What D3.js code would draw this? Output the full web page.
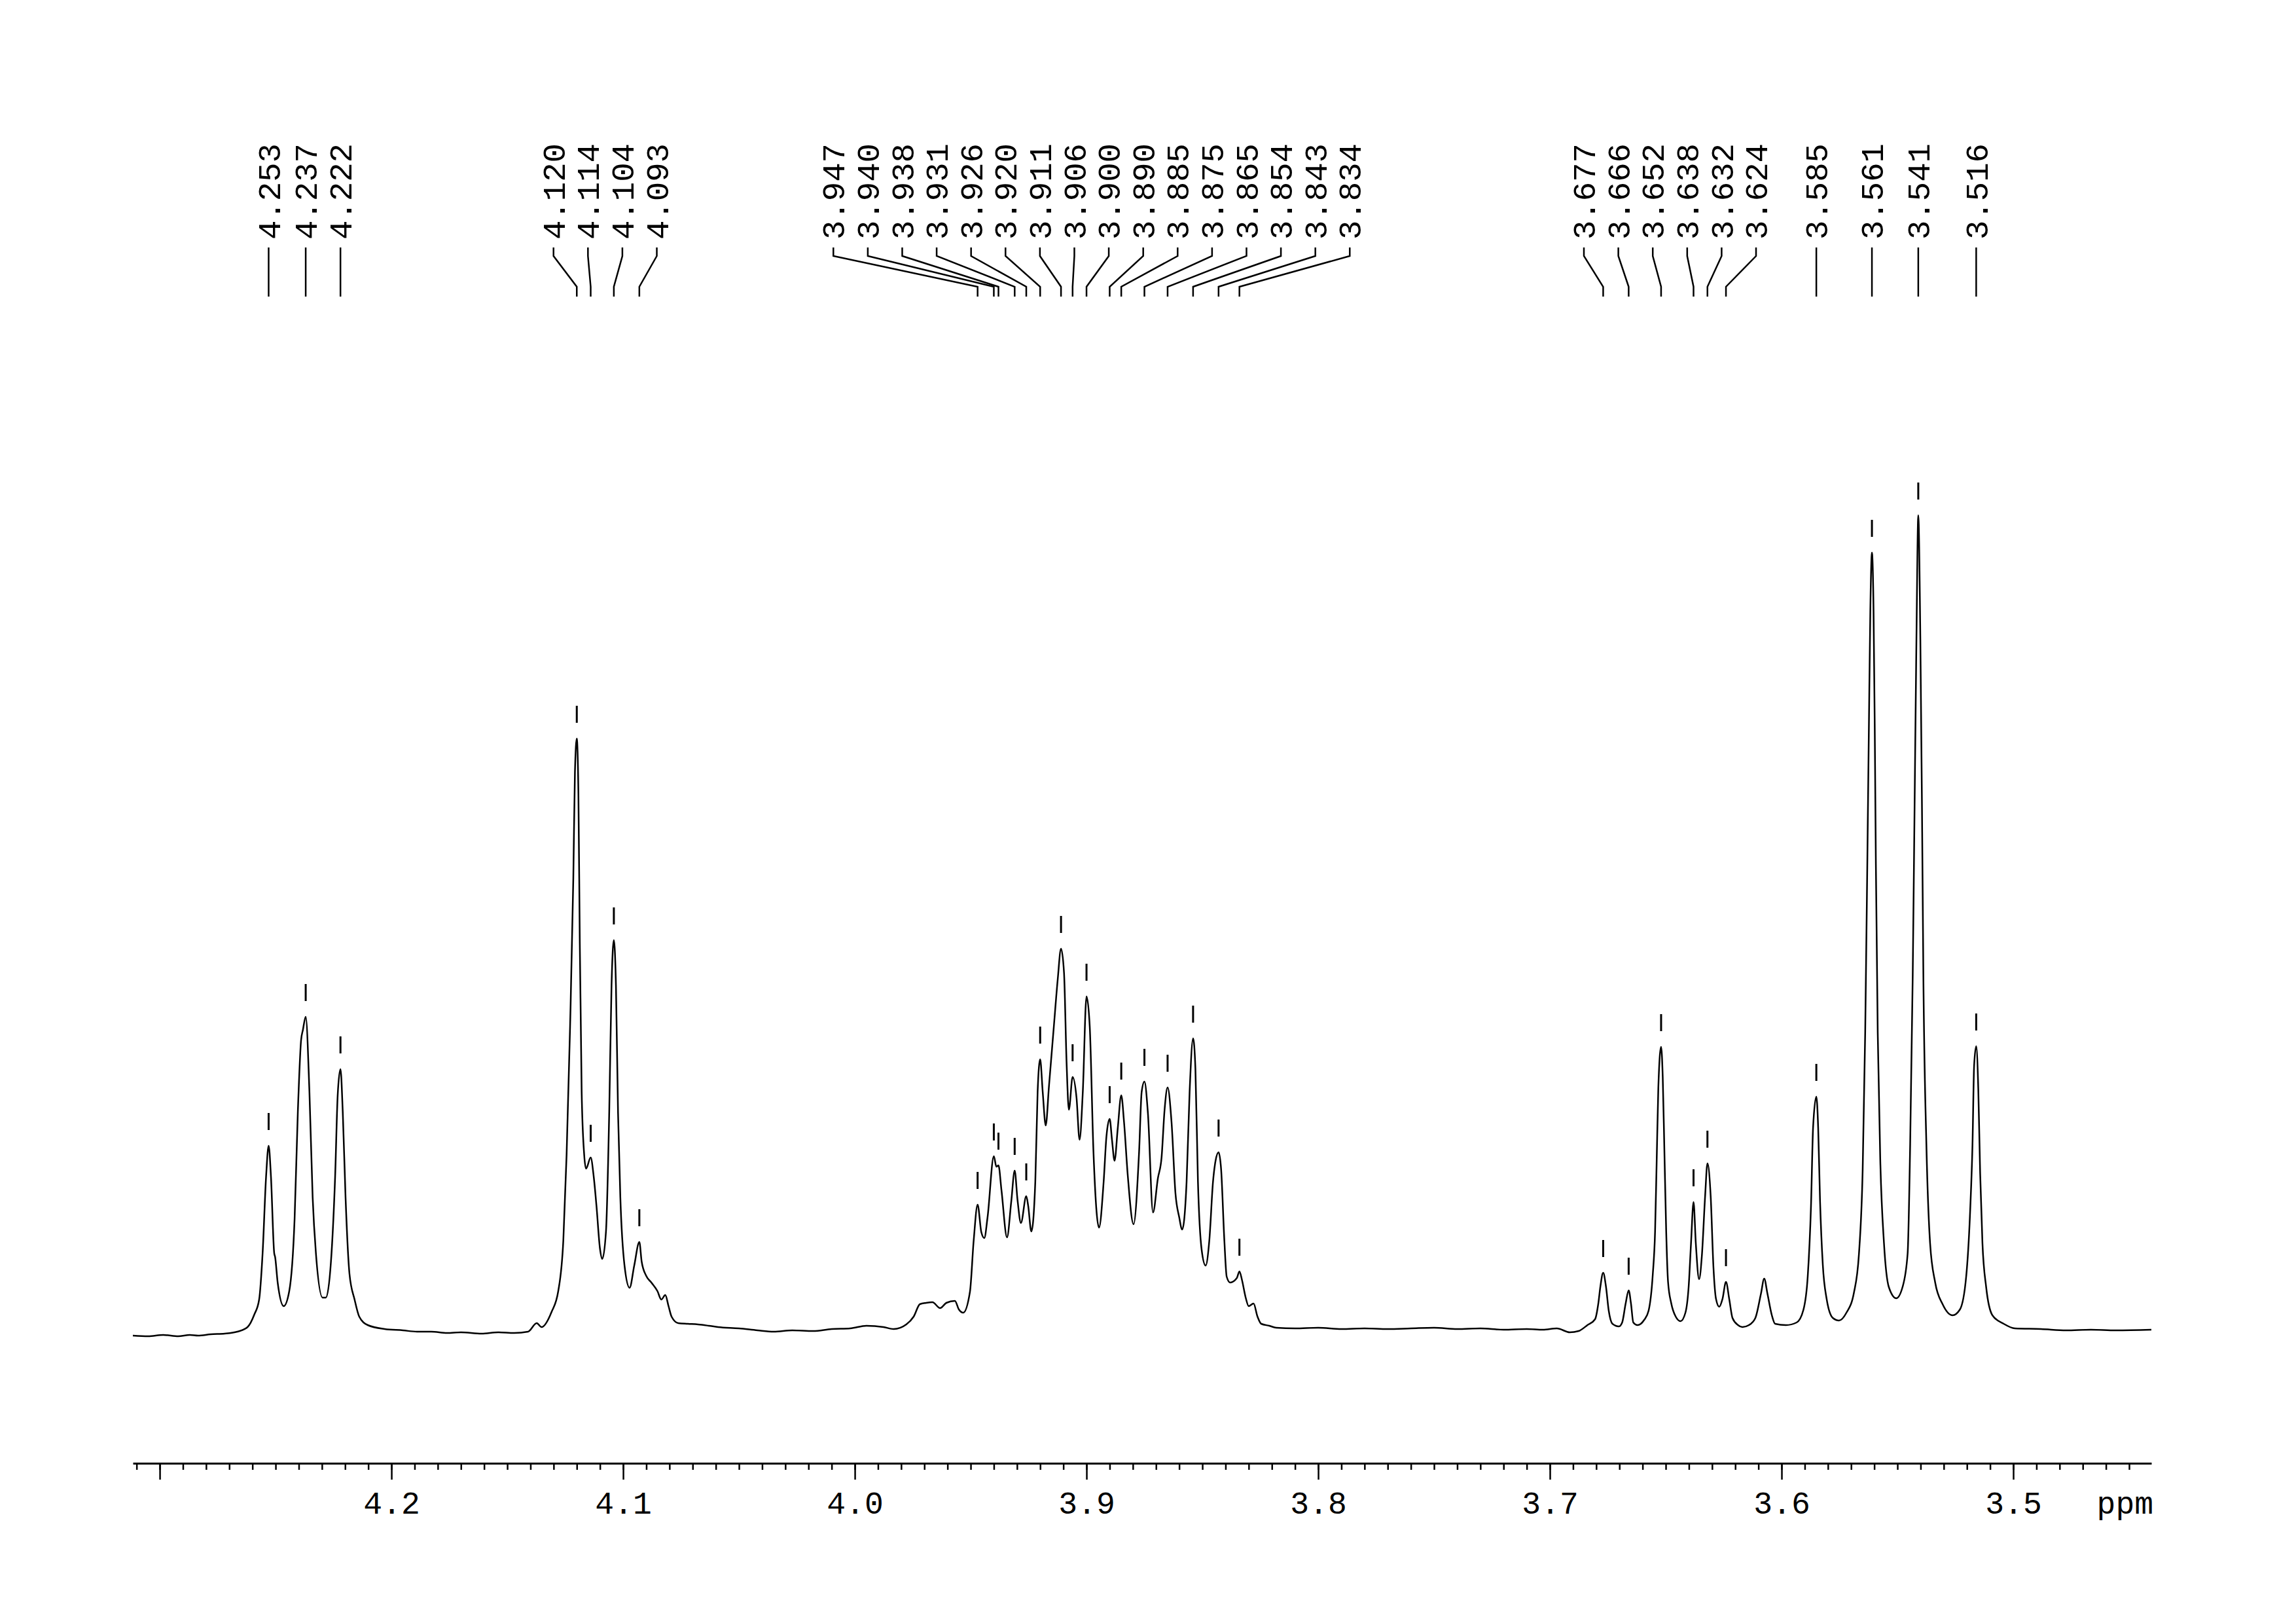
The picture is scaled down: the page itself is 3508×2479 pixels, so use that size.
<!DOCTYPE html>
<html><head><meta charset="utf-8">
<script src="https://cdn.jsdelivr.net/npm/d3@7"></script>
<style>html,body{margin:0;padding:0;background:#fff;}svg{display:block;}</style>
</head><body>
<script>
// ---- peak picking (ppm, intensity a.u.) ----
const peakPpm = [4.253,4.237,4.222,4.120,4.114,4.104,4.093,3.947,3.940,3.938,3.931,3.926,3.920,3.911,3.906,3.900,3.890,3.885,3.875,3.865,3.854,3.843,3.834,3.677,3.666,3.652,3.638,3.632,3.624,3.585,3.561,3.541,3.516];
const peakInt = [287,484,404,909,269,601,140,197,271,257,249,210,419,588,392,515,328,364,385,376,451,277,95,93,66,438,201,260,79,362,1193,1250,439];

// ---- axis ticks ----
const majorTicks = [4.3,4.2,4.1,4.0,3.9,3.8,3.7,3.6,3.5];
const majorLabels = ["","4.2","4.1","4.0","3.9","3.8","3.7","3.6","3.5"];
const axisUnit = "ppm";
const ppmRange = [4.3116, 3.4404];

// ---- spectrum trace: [ppm, intensity] ----
const specRegion1 = [[4.3116,-3],[4.3050,-4],[4.2985,-2],[4.2920,-4],[4.2870,-2],[4.2835,-3],[4.2780,-1],[4.2720,0],[4.2665,3],[4.2621,10],[4.2592,29],[4.2571,52],[4.2556,123],[4.2541,240],[4.2530,287],[4.2520,240],[4.2506,123],[4.2502,117],[4.2491,78],[4.2465,42],[4.2441,65],[4.2418,175],[4.2404,338],[4.2390,448],[4.2382,464],[4.2370,484],[4.2354,370],[4.2340,208],[4.2326,123],[4.2297,55],[4.2283,55],[4.2261,110],[4.2243,240],[4.2232,364],[4.2220,404],[4.2210,338],[4.2198,208],[4.2181,91],[4.2159,52],[4.2139,26],[4.2102,13],[4.2029,7]];
const specRegion2 = [[4.1950,5],[4.1890,3],[4.1828,3],[4.1760,1],[4.1700,2],[4.1611,0],[4.1540,2],[4.1470,1],[4.1410,3],[4.1373,16],[4.1352,10],[4.1309,33],[4.1280,65],[4.1258,143],[4.1244,273],[4.1229,468],[4.1215,695],[4.1208,857],[4.1200,909],[4.1193,825],[4.1187,597],[4.1179,370],[4.1168,273],[4.1160,252],[4.1140,269],[4.1127,240],[4.1115,195],[4.1100,130],[4.1090,114],[4.1074,156],[4.1060,338],[4.1050,532],[4.1040,601],[4.1031,532],[4.1022,338],[4.1012,208],[4.0994,104],[4.0972,70],[4.0952,104],[4.0930,140],[4.0920,110],[4.0900,88],[4.0878,78],[4.0852,65],[4.0835,52],[4.0818,59],[4.0804,42],[4.0791,26],[4.0762,16],[4.0720,15],[4.0676,14],[4.0630,12],[4.0590,10]];
const specRegion3 = [[4.0500,8],[4.0420,5],[4.0350,3],[4.0270,5],[4.0180,4],[4.0100,7],[4.0020,8],[3.9950,12],[3.9876,10],[3.9832,7],[3.9778,14],[3.9746,26],[3.9719,45],[3.9692,47],[3.9665,48],[3.9632,39],[3.9605,47],[3.9568,50],[3.9551,37],[3.9532,32],[3.9503,64],[3.9487,142],[3.9470,197],[3.9454,155],[3.9441,146],[3.9427,178],[3.9400,271],[3.9389,255],[3.9380,257],[3.9367,219],[3.9343,147],[3.9325,201],[3.9310,249],[3.9298,205],[3.9283,169],[3.9260,210],[3.9252,196],[3.9238,156],[3.9221,232],[3.9211,369],[3.9200,419],[3.9189,369],[3.9176,318],[3.9162,378],[3.9141,469],[3.9124,542],[3.9110,588],[3.9097,551],[3.9086,414],[3.9076,342],[3.9060,392],[3.9043,360],[3.9030,296],[3.9016,369],[3.9000,515],[3.8986,469],[3.8970,278],[3.8946,162],[3.8926,232],[3.8914,301],[3.8900,328],[3.8890,296],[3.8879,264],[3.8865,314],[3.8850,364],[3.8838,323],[3.8822,242],[3.8797,167],[3.8773,278],[3.8762,369],[3.8750,385],[3.8735,337],[3.8713,185],[3.8692,237],[3.8676,269],[3.8663,342],[3.8650,376],[3.8633,323],[3.8616,214],[3.8600,178],[3.8587,159],[3.8568,232],[3.8555,369],[3.8540,451],[3.8530,405],[3.8519,232],[3.8503,128],[3.8486,104],[3.8470,142],[3.8454,232],[3.8443,264],[3.8430,277],[3.8419,251],[3.8405,142],[3.8395,87],[3.8380,78],[3.8351,85],[3.8340,95],[3.8329,82],[3.8313,55],[3.8300,42],[3.8279,46],[3.8262,26],[3.8246,15],[3.8211,12],[3.8181,9]];
const specRegion4 = [[3.8100,8],[3.8000,9],[3.7900,7],[3.7800,8],[3.7700,7],[3.7600,8],[3.7500,9],[3.7400,7],[3.7300,8],[3.7200,6],[3.7100,7],[3.7030,6],[3.6970,8],[3.6914,2],[3.6876,4],[3.6838,13],[3.6805,22],[3.6791,46],[3.6782,72],[3.6770,93],[3.6758,72],[3.6746,35],[3.6730,15],[3.6702,11],[3.6688,17],[3.6673,46],[3.6660,66],[3.6650,46],[3.6640,17],[3.6622,13],[3.6593,21],[3.6574,35],[3.6556,90],[3.6546,156],[3.6539,265],[3.6532,375],[3.6520,438],[3.6513,393],[3.6506,283],[3.6498,156],[3.6490,79],[3.6476,46],[3.6457,26],[3.6436,19],[3.6415,32],[3.6401,72],[3.6391,137],[3.6380,201],[3.6370,137],[3.6356,83],[3.6344,119],[3.6330,210],[3.6320,260],[3.6306,210],[3.6294,101],[3.6283,53],[3.6269,41],[3.6255,53],[3.6240,79],[3.6226,53],[3.6212,24],[3.6188,13],[3.6169,10],[3.6141,13],[3.6113,24],[3.6089,61],[3.6075,84],[3.6061,61],[3.6042,28],[3.6028,15]];
const specRegion5 = [[3.5981,13],[3.5935,17],[3.5906,36],[3.5887,88],[3.5873,195],[3.5864,315],[3.5850,362],[3.5842,314],[3.5834,203],[3.5822,105],[3.5806,54],[3.5779,24],[3.5752,20],[3.5720,32],[3.5688,62],[3.5666,122],[3.5650,250],[3.5639,462],[3.5630,717],[3.5623,931],[3.5617,1103],[3.5610,1193],[3.5603,1103],[3.5598,931],[3.5593,717],[3.5585,460],[3.5574,265],[3.5558,138],[3.5537,71],[3.5505,54],[3.5478,71],[3.5456,122],[3.5445,289],[3.5434,546],[3.5426,803],[3.5418,1060],[3.5410,1250],[3.5401,1060],[3.5394,803],[3.5388,546],[3.5375,289],[3.5359,138],[3.5337,78],[3.5305,45],[3.5262,28],[3.5230,37],[3.5203,88],[3.5187,180],[3.5176,289],[3.5169,409],[3.5160,439],[3.5151,374],[3.5143,246],[3.5133,138],[3.5117,71],[3.5090,28],[3.5041,15],[3.4993,8],[3.4880,7],[3.4772,5],[3.4665,6],[3.4557,5],[3.4404,6]];

const spectrum = [].concat(specRegion1, specRegion2, specRegion3, specRegion4, specRegion5);

// ---- layout ----
const W = 3508, H = 2479;
const FONT = "'Liberation Mono','Courier New',monospace";
const svg = d3.select("body").append("svg").attr("width", W).attr("height", H).style("background", "#fff");

const x = d3.scaleLinear().domain(ppmRange).range([203, 3287]);
const y = d3.scaleLinear().domain([0, d3.max(spectrum, d => d[1])]).range([2037, 787]);

// spectrum line
svg.append("path")
  .datum(spectrum)
  .attr("fill", "none")
  .attr("stroke", "#000")
  .attr("stroke-width", 2.5)
  .attr("stroke-linejoin", "round")
  .attr("d", d3.line().x(d => x(d[0])).y(d => y(d[1])).curve(d3.curveMonotoneX));

// axis
const axisY = 2235;
const minorTicks = d3.range(431, 344, -1).map(v => v / 100);
const gMinor = svg.append("g").attr("transform", `translate(0,${axisY})`)
  .call(d3.axisBottom(x).tickValues(minorTicks).tickSize(10).tickSizeOuter(0).tickFormat(""));
gMinor.select(".domain").attr("stroke-width", 3).attr("stroke", "#000");
gMinor.selectAll(".tick line").attr("stroke-width", 2.5).attr("stroke", "#000");

const gMajor = svg.append("g").attr("transform", `translate(0,${axisY})`)
  .call(d3.axisBottom(x).tickValues(majorTicks).tickSize(25).tickSizeOuter(0).tickPadding(18)
    .tickFormat((d, i) => majorLabels[i]));
gMajor.select(".domain").remove();
gMajor.selectAll(".tick line").attr("stroke-width", 2.5).attr("stroke", "#000");
gMajor.selectAll(".tick text").attr("font-family", FONT).attr("font-size", 48).attr("fill", "#000");

svg.append("text").attr("x", x(ppmRange[1]) + 3).attr("y", 2312)
  .attr("text-anchor", "end").attr("font-family", FONT).attr("font-size", 48).attr("fill", "#000")
  .text(axisUnit);

// peak markers
const peaks = peakPpm.map((p, i) => ({ppm: p, int: peakInt[i], px: x(p)}));
svg.append("g").selectAll("line").data(peaks).join("line")
  .attr("x1", d => d.px).attr("x2", d => d.px)
  .attr("y1", d => y(d.int) - 50).attr("y2", d => y(d.int) - 24)
  .attr("stroke", "#000").attr("stroke-width", 3);

// label placement: spread overlapping labels evenly around their cluster mean
const S = 52.6;
let clusters = peaks.map(p => ({m: [p]}));
const center = c => d3.mean(c.m, d => d.px);
const first = c => center(c) - (c.m.length - 1) / 2 * S;
const last = c => center(c) + (c.m.length - 1) / 2 * S;
let merged = true;
while (merged) {
  merged = false;
  for (let i = 0; i < clusters.length - 1; i++) {
    if (last(clusters[i]) + S > first(clusters[i + 1]) + 0.01) {
      clusters[i] = {m: clusters[i].m.concat(clusters[i + 1].m)};
      clusters.splice(i + 1, 1);
      merged = true;
      break;
    }
  }
}
clusters.forEach(c => {
  const f = first(c);
  c.m.forEach((p, k) => { p.lx = f + k * S; });
});

const gl = svg.append("g");
gl.selectAll("path").data(peaks).join("path")
  .attr("fill", "none").attr("stroke", "#000").attr("stroke-width", 2.5)
  .attr("d", d => `M${d.lx},378L${d.lx},391L${d.px},438L${d.px},453`);
gl.selectAll("text").data(peaks).join("text")
  .attr("transform", d => `translate(${d.lx},366) rotate(-90)`)
  .attr("dy", "0.35em")
  .attr("text-anchor", "start")
  .attr("font-family", FONT).attr("font-size", 49).attr("fill", "#000")
  .text(d => d.ppm.toFixed(3));
</script>
</body></html>
